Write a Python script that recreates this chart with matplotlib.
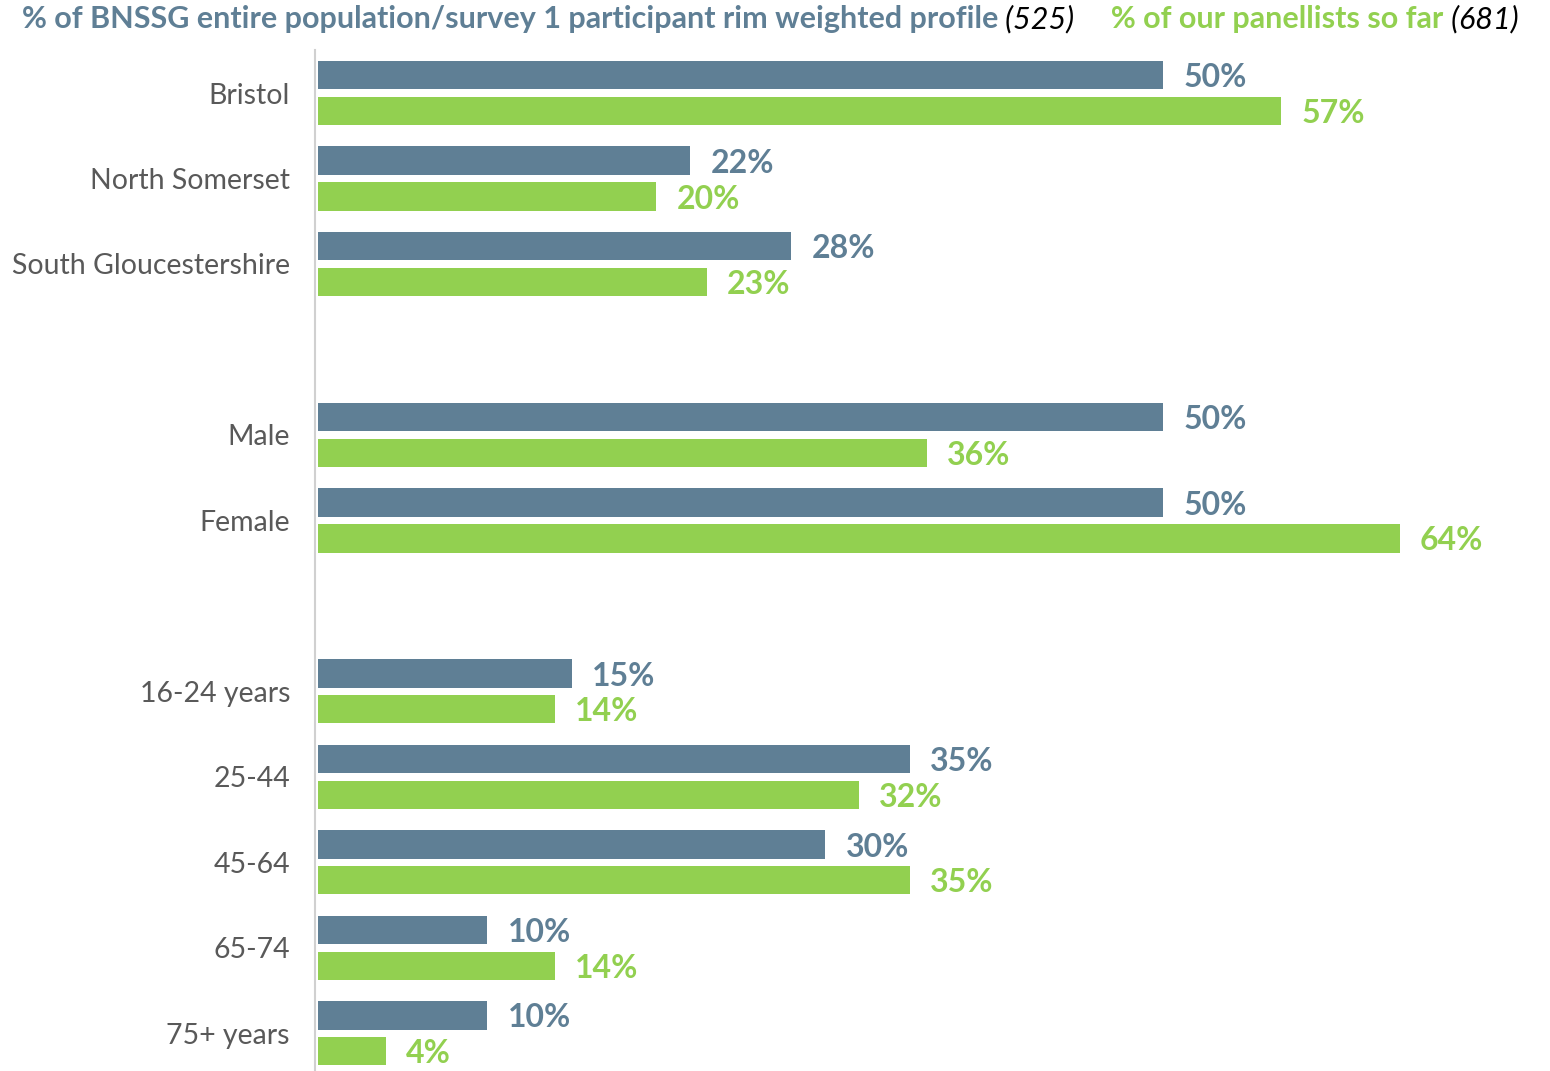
import matplotlib.pyplot as plt

categories = ['Bristol', 'North Somerset', 'South Gloucestershire',
              'Male', 'Female',
              '16-24 years', '25-44', '45-64', '65-74', '75+ years']
slots = [0, 1, 2, 4, 5, 7, 8, 9, 10, 11]
population = [50, 22, 28, 50, 50, 15, 35, 30, 10, 10]
panellists = [57, 20, 23, 36, 64, 14, 32, 35, 14, 4]

BLUE = '#5f7f95'
GREEN = '#92d050'
GREY = '#595959'

plt.rcParams['font.family'] = ['Lato', 'DejaVu Sans']

fig = plt.figure(figsize=(15.5, 10.71), dpi=100)
ax = fig.add_axes([315 / 1550, 0, 1235 / 1550, 1021 / 1071])

off = 0.21
h = 0.33
yb = [s - off for s in slots]
yg = [s + off for s in slots]
ax.barh(yb, population, height=h, color=BLUE, left=0.1)
ax.barh(yg, panellists, height=h, color=GREEN, left=0.1)

for i in range(len(slots)):
    ax.text(population[i] + 1.3, yb[i] + 0.03, str(population[i]) + '%',
            color=BLUE, fontsize=23, fontweight='bold', va='center', ha='left')
    ax.text(panellists[i] + 1.3, yg[i] + 0.03, str(panellists[i]) + '%',
            color=GREEN, fontsize=23, fontweight='bold', va='center', ha='left')

ax.set_yticks(slots)
ax.set_yticklabels(categories, fontsize=20.5, color=GREY)
ax.tick_params(axis='y', length=0, pad=18)
ax.set_xticks([])
ax.set_xlim(-0.1, 73)
ax.set_ylim(11.44, -0.503)
for s in ['top', 'right', 'bottom']:
    ax.spines[s].set_visible(False)
ax.spines['left'].set_color('#d0d0d0')
ax.spines['left'].set_linewidth(1.5)

# header built from consecutive pieces
pieces = [('% of BNSSG entire population/survey 1 participant rim weighted profile', BLUE, 'bold', 'normal'),
          (' (525)', 'black', 'normal', 'italic'),
          ('     % of our panellists so far', GREEN, 'bold', 'normal'),
          (' (681)', 'black', 'normal', 'italic')]
x = 22 / 1550
y = 1 - 19 / 1071
t = None
for txt, col, wt, st in pieces:
    if t is None:
        t = fig.text(x, y, txt, color=col, fontsize=22, fontweight=wt, style=st,
                     va='center', ha='left')
    else:
        t = ax.annotate(txt, xycoords=t, xy=(1, 0.5), va='center', ha='left',
                        color=col, fontsize=22, fontweight=wt, style=st,
                        annotation_clip=False)

fig.savefig('out.png', dpi=100)
